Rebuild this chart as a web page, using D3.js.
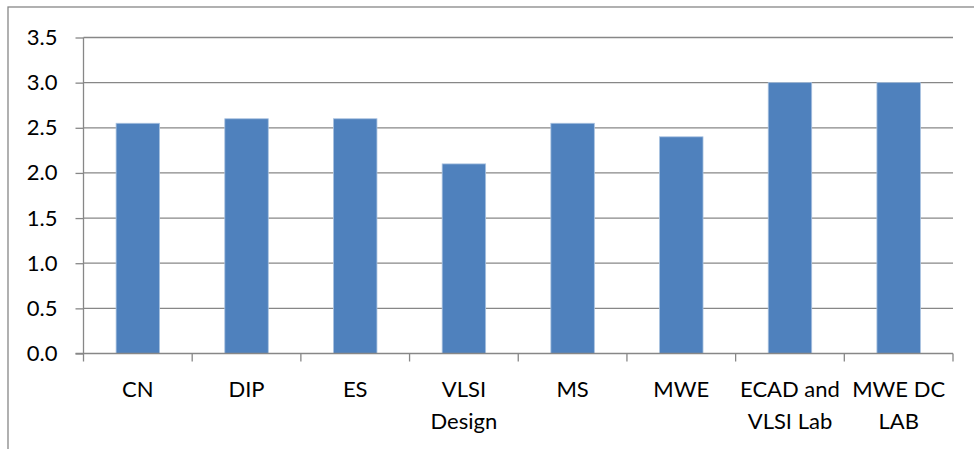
<!DOCTYPE html>
<html>
<head>
<meta charset="utf-8">
<script src="https://cdn.jsdelivr.net/npm/d3@7"></script>
<style>
  html, body { margin: 0; padding: 0; background: #fff; }
  svg { display: block; }
  text { font-family: Lato, "Open Sans", sans-serif; fill: #000; }
</style>
</head>
<body>
<svg id="chart" width="974" height="449"></svg>
<script>
// Subjects and their scores
const categories = ["CN", "DIP", "ES", "VLSI Design", "MS", "MWE", "ECAD and VLSI Lab", "MWE DC LAB"];
const scores = [2.55, 2.6, 2.6, 2.1, 2.55, 2.4, 3.0, 3.0];
const yTicks = [0, 0.5, 1.0, 1.5, 2.0, 2.5, 3.0, 3.5];

const svg = d3.select("#chart");
const W = 974, H = 449;
const plot = { left: 83.5, right: 953, top: 37.5, bottom: 353.5 };
const gridColor = "#878787";
const fontSize = 22;

// outer chart frame (runs off the right and bottom edges)
svg.append("rect")
  .attr("x", 8).attr("y", 7)
  .attr("width", W + 20).attr("height", H + 20)
  .attr("fill", "none").attr("stroke", gridColor).attr("stroke-width", 1.3);

const x = d3.scaleBand().domain(categories).range([plot.left, plot.right]).paddingInner(0.6).paddingOuter(0.3);
const xCat = d3.scaleBand().domain(categories).range([plot.left, plot.right]);
const y = d3.scaleLinear().domain([0, 3.5]).range([plot.bottom, plot.top]);

// horizontal gridlines
svg.append("g").selectAll("line").data(yTicks.filter(d => d > 0)).join("line")
  .attr("x1", plot.left).attr("x2", plot.right)
  .attr("y1", d => y(d)).attr("y2", d => y(d))
  .attr("stroke", gridColor).attr("stroke-width", 1.3);

// bars
svg.append("g").selectAll("rect").data(categories).join("rect")
  .attr("x", d => x(d))
  .attr("width", x.bandwidth())
  .attr("y", (d, i) => y(scores[i]))
  .attr("height", (d, i) => y(0) - y(scores[i]))
  .attr("fill", "#4F81BD")
  .attr("stroke", "#A9C2E0").attr("stroke-width", 0.8);

// y axis
const yAxis = svg.append("g")
  .attr("transform", `translate(${plot.left},0)`)
  .call(d3.axisLeft(y).tickValues(yTicks).tickFormat(d3.format(".1f")).tickSize(8).tickPadding(18));
yAxis.select(".domain").attr("stroke", gridColor).attr("stroke-width", 1.3)
  .attr("d", `M0,${plot.top}V${plot.bottom}`);
yAxis.selectAll(".tick line").attr("stroke", gridColor).attr("stroke-width", 1.3);
yAxis.selectAll(".tick text").style("font-size", fontSize + "px").style("font-family", "Lato, sans-serif").attr("fill", "#000");

// x axis with boundary ticks between categories
const xg = svg.append("g");
xg.append("line")
  .attr("x1", plot.left - 8).attr("x2", plot.right)
  .attr("y1", plot.bottom).attr("y2", plot.bottom)
  .attr("stroke", gridColor).attr("stroke-width", 1.3);
const bounds = categories.map(c => xCat(c)).concat([plot.right]);
xg.selectAll("line.b").data(bounds).join("line").attr("class", "b")
  .attr("x1", d => d).attr("x2", d => d)
  .attr("y1", plot.bottom).attr("y2", plot.bottom + 8)
  .attr("stroke", gridColor).attr("stroke-width", 1.3);

// category labels, wrapped to the category width
const lineHeight = 31.5;
categories.forEach(c => {
  const t = xg.append("text")
    .attr("x", xCat(c) + xCat.bandwidth() / 2)
    .attr("y", 397)
    .attr("text-anchor", "middle")
    .style("font-size", fontSize + "px");
  const words = c.split(" ");
  let lines = [], cur = [];
  const probe = t.append("tspan");
  words.forEach(w => {
    const trial = cur.concat([w]).join(" ");
    probe.text(trial);
    if (probe.node().getComputedTextLength() > xCat.bandwidth() + 2 && cur.length) {
      lines.push(cur.join(" "));
      cur = [w];
    } else {
      cur.push(w);
    }
  });
  lines.push(cur.join(" "));
  probe.remove();
  lines.forEach((l, i) => {
    t.append("tspan").attr("x", xCat(c) + xCat.bandwidth() / 2)
      .attr("dy", i === 0 ? 0 : lineHeight).text(l);
  });
});
</script>
</body>
</html>
